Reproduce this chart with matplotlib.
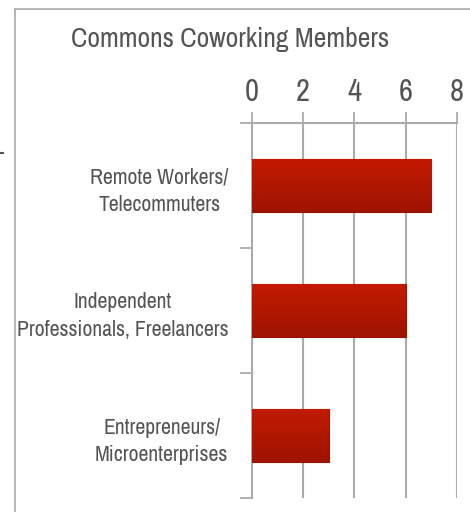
import numpy as np
import matplotlib.pyplot as plt
from matplotlib.lines import Line2D
from matplotlib.colors import LinearSegmentedColormap
from matplotlib import font_manager as fm

categories = ['Remote Workers/\nTelecommuters',
              'Independent\nProfessionals, Freelancers',
              'Entrepreneurs/\nMicroenterprises']
members = [7, 6, 3]
x_ticks = [0, 2, 4, 6, 8]
title = 'Commons Coworking Members'

# look for a narrow / condensed face, the original uses a condensed sans
def pick_narrow_font():
    found = []
    for f in fm.fontManager.ttflist:
        if f.style != 'normal' or f.weight not in (400, 'normal', 'regular', 500, 'medium'):
            continue
        n = f.name.lower()
        if 'narrow' in n or 'condensed' in n or 'condensed' in str(f.stretch) or 'narrow' in f.fname.lower():
            found.append(f)
    if not found:
        return None
    found.sort(key=lambda f: ('liberation' not in f.name.lower(), f.name))
    return found[0].fname

fpath = pick_narrow_font()
if fpath:
    fp = fm.FontProperties(fname=fpath)
else:
    fp = fm.FontProperties(family='DejaVu Sans')

text_col = '#545454'
grid_col = '#ababab'

fig = plt.figure(figsize=(4.7, 5.12), dpi=100)
ax = fig.add_axes([252/470, 1 - 498/512, (456.7 - 252)/470, (498 - 123)/512])

y = np.arange(len(categories))
bar_h = 0.42
bars = ax.barh(y, members, height=bar_h, color='#b01700', edgecolor='#9a1200', linewidth=0.8, zorder=3)

# vertical gradient inside each bar
grad = np.linspace(0, 1, 64).reshape(-1, 1)
cmap = LinearSegmentedColormap.from_list('red', ['#c21a00', '#9e1400'])
for b in bars:
    x0, y0 = b.get_x(), b.get_y()
    im = ax.imshow(grad, cmap=cmap, aspect='auto', zorder=3.5,
                   extent=[x0, x0 + b.get_width(), y0 + b.get_height(), y0])
    im.set_clip_path(b)

ax.set_xlim(0, 8)
ax.set_ylim(len(categories) - 0.5, -0.5)
ax.set_xticks(x_ticks)
ax.xaxis.tick_top()
ax.tick_params(axis='x', which='major', length=8, width=1.3, color=grid_col,
               labelcolor=text_col, pad=4)
ax.grid(axis='x', color=grid_col, linewidth=1.5, zorder=0)

ax.set_yticks(y)
ax.set_yticklabels(categories, multialignment='center', linespacing=1.45)
ax.set_yticks([-0.5, 0.5, 1.5, 2.5], minor=True)
ax.tick_params(axis='y', which='major', length=0, labelcolor=text_col, pad=17)
ax.tick_params(axis='y', which='minor', length=9, width=1.3, color=grid_col)

for s in ['right', 'bottom']:
    ax.spines[s].set_visible(False)
for s in ['left', 'top']:
    ax.spines[s].set_color(grid_col)
    ax.spines[s].set_linewidth(1.5)

ttl = fig.text(230/470, 1 - 40/512, title, ha='center', va='center', color=text_col)

# font sizes: fit widths
renderer = fig.canvas.get_renderer()

def fit(txt, target_w, size0=20):
    txt.set_fontproperties(fp)
    txt.set_fontsize(size0)
    w = txt.get_window_extent(renderer).width
    return size0 * target_w / w

tsize = min(fit(ttl, 318), 22)
ttl.set_fontsize(tsize)

probe = fig.text(0, 0, 'Professionals, Freelancers')
lsize = min(fit(probe, 212), 18)
probe.remove()
for lab in ax.get_yticklabels():
    lab.set_fontproperties(fp)
    lab.set_fontsize(lsize)
for lab in ax.get_xticklabels():
    lab.set_fontproperties(fp)
    lab.set_fontsize(min(tsize * 1.15, 22))

# outer frame (left and top only) and the small stray mark
fig.add_artist(Line2D([15/470, 15/470], [0, 1 - 9/512], color='#b0b0b0', linewidth=1.3))
fig.add_artist(Line2D([15/470, 1], [1 - 9/512, 1 - 9/512], color='#b0b0b0', linewidth=1.3))
fig.add_artist(Line2D([0, 3/470], [1 - 153/512, 1 - 153/512], color='#555555', linewidth=1.5))

fig.savefig('out.png', dpi=100)
